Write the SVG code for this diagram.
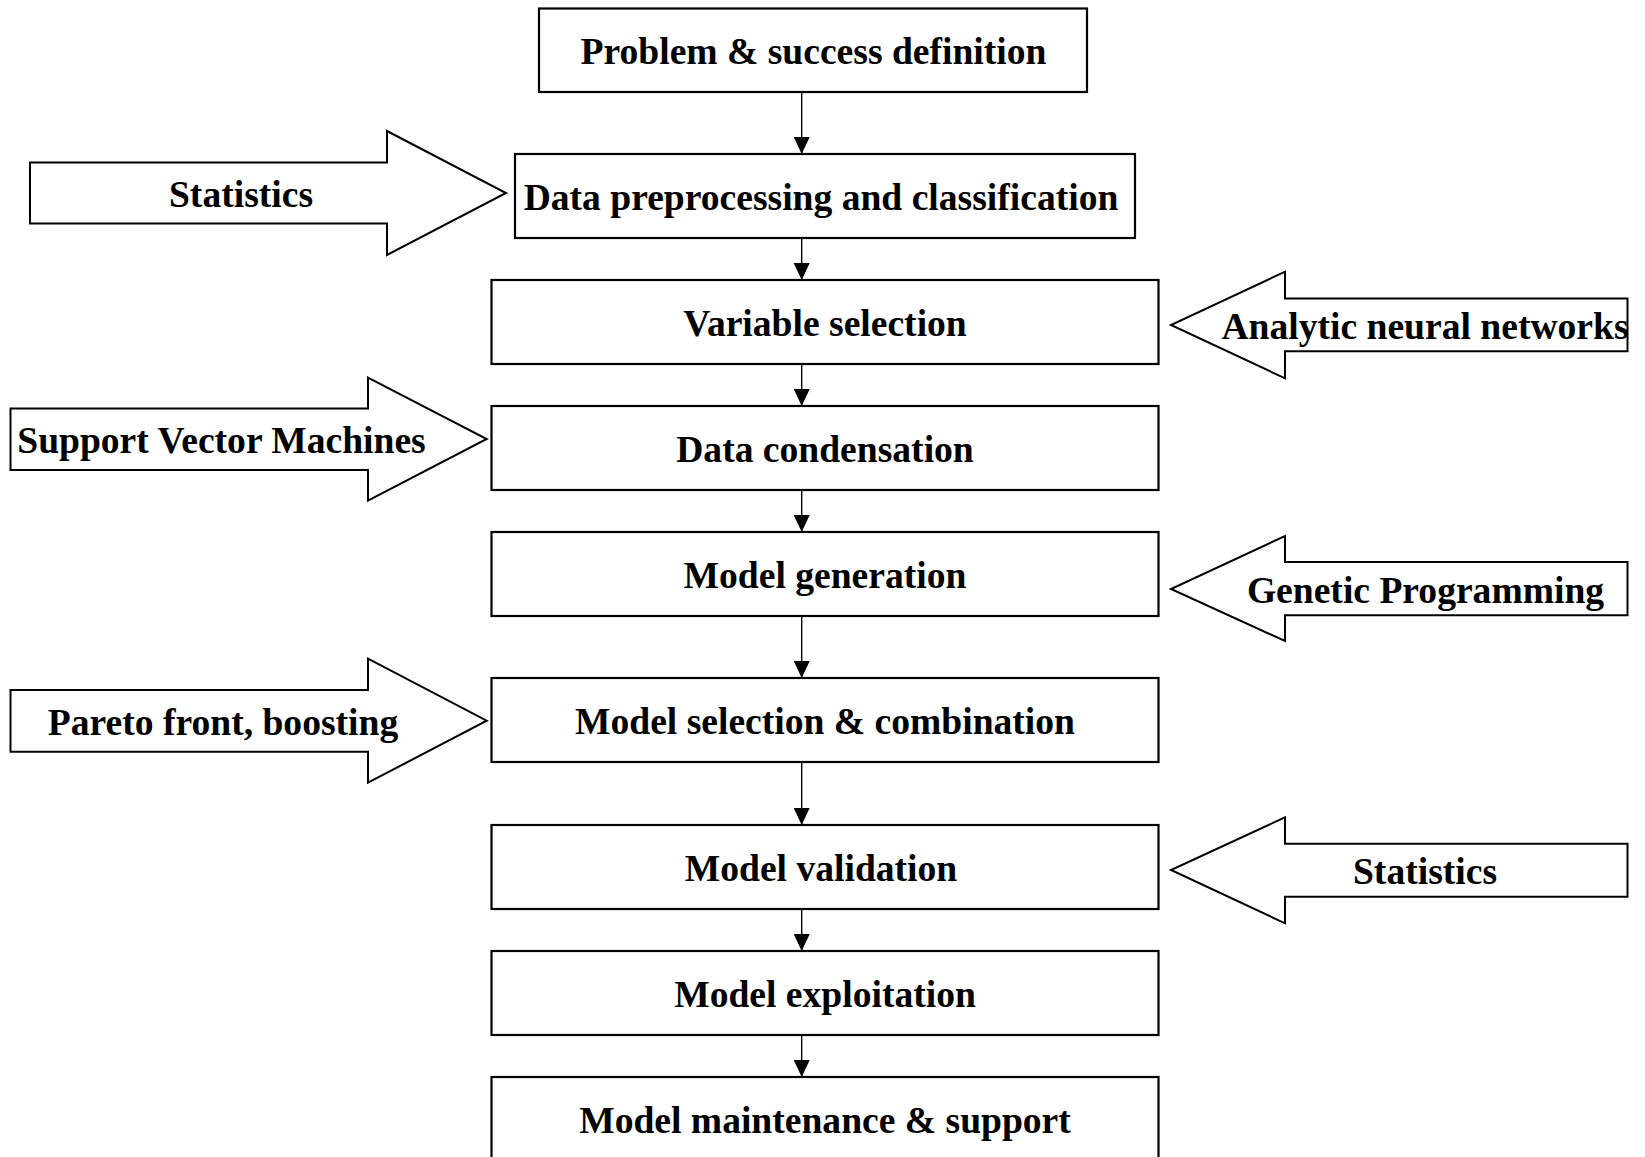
<svg xmlns="http://www.w3.org/2000/svg" width="1645" height="1157" viewBox="0 0 1645 1157">
  <style>
    .box { fill: #ffffff; stroke: #000000; stroke-width: 2.2; }
    .blk { fill: #ffffff; stroke: #000000; stroke-width: 2; stroke-linejoin: miter; }
    .lbl { font-family: "Liberation Serif", "Times New Roman", serif; font-weight: bold; font-size: 37.6px; fill: #000000; text-anchor: middle; }
    .conn { stroke: #000000; stroke-width: 1.4; fill: none; }
  </style>
  <defs>
    <marker id="head" markerUnits="userSpaceOnUse" markerWidth="16" markerHeight="18" refX="17" refY="8" orient="auto">
      <path d="M0,0 L17,8 L0,16 Z" fill="#000000"/>
    </marker>
  </defs>
  <rect width="1645" height="1157" fill="#ffffff"/>

  <!-- process flow connectors -->
  <g id="connectors">
    <line class="conn" x1="801.7" y1="92" x2="801.7" y2="154" marker-end="url(#head)"/>
    <line class="conn" x1="801.7" y1="238" x2="801.7" y2="280" marker-end="url(#head)"/>
    <line class="conn" x1="801.7" y1="364" x2="801.7" y2="406" marker-end="url(#head)"/>
    <line class="conn" x1="801.7" y1="490" x2="801.7" y2="532" marker-end="url(#head)"/>
    <line class="conn" x1="801.7" y1="616" x2="801.7" y2="678" marker-end="url(#head)"/>
    <line class="conn" x1="801.7" y1="762" x2="801.7" y2="825" marker-end="url(#head)"/>
    <line class="conn" x1="801.7" y1="909" x2="801.7" y2="951" marker-end="url(#head)"/>
    <line class="conn" x1="801.7" y1="1035" x2="801.7" y2="1077" marker-end="url(#head)"/>
  </g>

  <!-- process steps -->
  <g id="step-problem">
    <rect class="box" x="539" y="8.5" width="548" height="83.5"/>
    <text class="lbl" x="813.5" y="64">Problem &amp; success definition</text>
  </g>
  <g id="step-preprocessing">
    <rect class="box" x="515" y="154" width="620" height="84"/>
    <text class="lbl" x="821" y="210">Data preprocessing and classification</text>
  </g>
  <g id="step-variable-selection">
    <rect class="box" x="491.5" y="280" width="667" height="84"/>
    <text class="lbl" x="825" y="336">Variable selection</text>
  </g>
  <g id="step-condensation">
    <rect class="box" x="491.5" y="406" width="667" height="84"/>
    <text class="lbl" x="825" y="462">Data condensation</text>
  </g>
  <g id="step-generation">
    <rect class="box" x="491.5" y="532" width="667" height="84"/>
    <text class="lbl" x="825" y="588">Model generation</text>
  </g>
  <g id="step-selection">
    <rect class="box" x="491.5" y="678" width="667" height="84"/>
    <text class="lbl" x="825" y="734">Model selection &amp; combination</text>
  </g>
  <g id="step-validation">
    <rect class="box" x="491.5" y="825" width="667" height="84"/>
    <text class="lbl" x="821" y="881">Model validation</text>
  </g>
  <g id="step-exploitation">
    <rect class="box" x="491.5" y="951" width="667" height="84"/>
    <text class="lbl" x="825" y="1007">Model exploitation</text>
  </g>
  <g id="step-maintenance">
    <rect class="box" x="491.5" y="1077" width="667" height="90"/>
    <text class="lbl" x="825" y="1133">Model maintenance &amp; support</text>
  </g>

  <!-- techniques feeding in from the left -->
  <g id="in-statistics-left">
    <polygon class="blk" points="30,162.5 387,162.5 387,131 506,193 387,255 387,223.5 30,223.5"/>
    <text class="lbl" x="241" y="207">Statistics</text>
  </g>
  <g id="in-svm">
    <polygon class="blk" points="10.5,408.5 368,408.5 368,377.7 486.7,439 368,500.7 368,470 10.5,470"/>
    <text class="lbl" x="221.5" y="453">Support Vector Machines</text>
  </g>
  <g id="in-pareto">
    <polygon class="blk" points="10.5,690 368,690 368,658.7 486.7,720.7 368,782.7 368,751.7 10.5,751.7"/>
    <text class="lbl" x="223" y="734.5">Pareto front, boosting</text>
  </g>

  <!-- techniques feeding in from the right -->
  <g id="in-analytic-nn">
    <polygon class="blk" points="1627.5,298.5 1285,298.5 1285,271.7 1171,325 1285,378.3 1285,351.3 1627.5,351.3"/>
    <text class="lbl" x="1425" y="339">Analytic neural networks</text>
  </g>
  <g id="in-genetic">
    <polygon class="blk" points="1627.5,562 1285,562 1285,536 1171,589 1285,641 1285,615.3 1627.5,615.3"/>
    <text class="lbl" x="1425.5" y="603">Genetic Programming</text>
  </g>
  <g id="in-statistics-right">
    <polygon class="blk" points="1627.5,843.7 1285,843.7 1285,817.3 1171,870 1285,923.3 1285,896.7 1627.5,896.7"/>
    <text class="lbl" x="1425" y="884">Statistics</text>
  </g>
</svg>
